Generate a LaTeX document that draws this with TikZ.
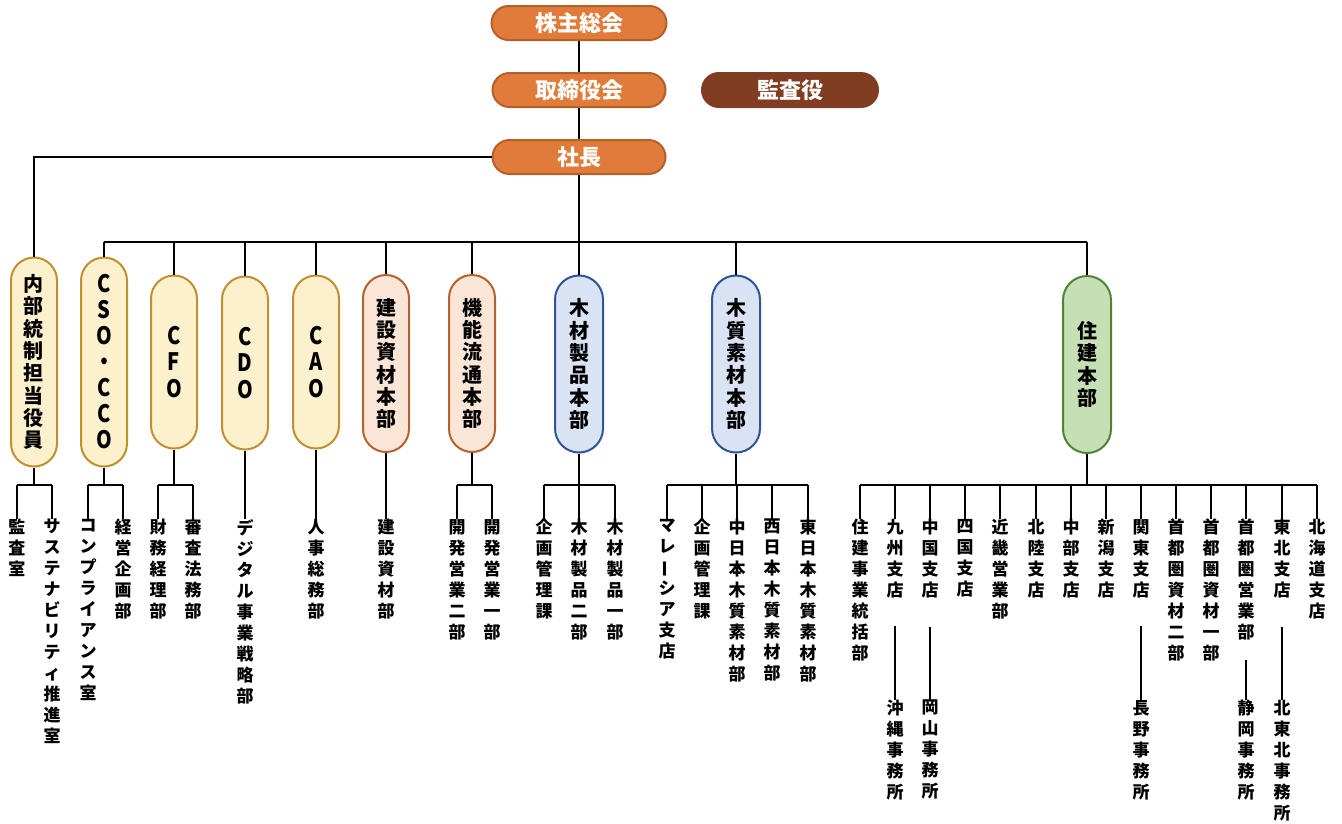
\documentclass[tikz,border=0pt]{standalone}
\usepackage{fontspec}
\usepackage{graphicx}
\usepackage{tikz}
\usetikzlibrary{calc}
\setmainfont{Noto Sans CJK JP}
\definecolor{line}{HTML}{000000}
\definecolor{topfill}{HTML}{E07B39}
\definecolor{topedge}{HTML}{B4602B}
\definecolor{audit}{HTML}{803D21}
\definecolor{yelfill}{HTML}{FDF0CD}
\definecolor{yeledge}{HTML}{BF9030}
\definecolor{orgfill}{HTML}{FBE5D6}
\definecolor{orgedge}{HTML}{B4612D}
\definecolor{blufill}{HTML}{DAE3F3}
\definecolor{bluedge}{HTML}{2F5597}
\definecolor{grnfill}{HTML}{C5E0B4}
\definecolor{grnedge}{HTML}{548235}
\makeatletter
\newcommand\vstack[3][]{\vbox{\baselineskip=#2\lineskiplimit=-30pt\lineskip=0pt
  \expandafter\@tfor\expandafter\vch\expandafter:\expandafter=#3\do{\hbox to 1.1em{\hss#1{\vch}\hss}}}}
\makeatother
\newcommand\tall[1]{\scalebox{1.0}[1.2]{\fontsize{20pt}{20pt}\selectfont#1}}
\newcommand\vbar{\rotatebox[origin=c]{90}{ー}}
\tikzset{
  conn/.style={draw=line, line width=2.2pt},
  topbox/.style={draw=topedge, fill=topfill, line width=2pt, rounded corners=17pt, minimum width=173pt, minimum height=34pt, inner sep=0pt, text=white, font=\bfseries\fontsize{22pt}{22pt}\selectfont},
  auditbox/.style={topbox, draw=audit, fill=audit, minimum width=176pt},
  unit/.style={line width=2pt, rounded corners=23pt, minimum width=46pt, inner sep=0pt, font=\bfseries\fontsize{20pt}{22pt}\selectfont},
  exec/.style={unit, draw=yeledge, fill=yelfill},
  hqo/.style={unit, draw=orgedge, fill=orgfill, minimum height=177pt},
  hqb/.style={unit, draw=bluedge, fill=blufill, minimum width=48pt, minimum height=177pt, rounded corners=24pt},
  hqg/.style={unit, draw=grnedge, fill=grnfill, minimum width=48pt, minimum height=177pt, rounded corners=24pt},
  dept/.style={anchor=north, inner sep=0pt, font=\bfseries\fontsize{17pt}{21pt}\selectfont},
}
\begin{document}
\begin{tikzpicture}[x=1pt, y=-1pt]
  \useasboundingbox (0,0) rectangle (1342,823);
  % top
  \node[topbox, minimum width=175pt] (sokai) at (579,23) {株主総会};
  \node[topbox] (torishimari) at (579,90) {取締役会};
  \node[auditbox] (kansayaku) at (790,90) {監査役};
  \node[topbox] (shacho) at (579,157) {社長};
  \draw[conn] (sokai) -- (torishimari);
  \draw[conn] (torishimari) -- (shacho);

  % officers and headquarters
  \node[exec, minimum height=209pt] (naibu) at (34,362) {\vstack{22.3pt}{内部統制担当役員}};
  \node[exec, minimum height=209pt] (cso) at (104,362) {\vstack[\tall]{26pt}{CSO・CCO}};
  \node[exec, minimum height=173pt] (cfo) at (174,362) {\vstack[\tall]{26.5pt}{CFO}};
  \node[exec, minimum height=173pt] (cdo) at (245,363) {\vstack[\tall]{26.5pt}{CDO}};
  \node[exec, minimum height=173pt] (cao) at (316,362) {\vstack[\tall]{26.5pt}{CAO}};
  \node[hqo] (kenzai) at (386,363.5) {\vstack{22.3pt}{建設資材本部}};
  \node[hqo] (kino) at (472,363.5) {\vstack{22.3pt}{機能流通本部}};
  \node[hqb] (mokuzai) at (579,364) {\vstack{22.3pt}{木材製品本部}};
  \node[hqb] (mokushitsu) at (736,364) {\vstack{22.3pt}{木質素材本部}};
  \node[hqg] (juken) at (1087,364.5) {\vstack{22.3pt}{住建本部}};

  \coordinate (bus) at (0,242);
  \draw[conn] (shacho.south) -- (shacho.south |- bus);
  \draw[conn] (shacho.west) -| (naibu.north);
  \draw[conn] (cso.north |- bus) -- (juken.north |- bus);
  \foreach \n in {cso,cfo,cdo,cao,kenzai,kino,mokuzai,mokushitsu,juken}
    \draw[conn] (\n.north |- bus) -- (\n.north);

  % departments
  \foreach \x/\n/\t in {17/kansa/監査室, 52/sustain/サステナビリティ推進室,
      88/comp/コンプライアンス室, 123/keiei/経営企画部,
      158/zaimu/財務経理部, 193/shinsa/審査法務部,
      245/digital/デジタル事業戦略部, 316/jinji/人事総務部, 386/kenzaibu/建設資材部,
      457/kaihatsu2/開発営業二部, 492/kaihatsu1/開発営業一部,
      544/kikakuA/企画管理課, 579/seihin2/木材製品二部, 615/seihin1/木材製品一部,
      667/malaysia/マレ\vbar シア支店, 702/kikakuB/企画管理課,
      737/naka/中日本木質素材部, 772/nishi/西日本木質素材部, 808/higashi/東日本木質素材部,
      860/jkt/住建事業統括部, 895/kyushu/九州支店, 930/chugoku/中国支店,
      965/shikoku/四国支店, 1000/kinki/近畿営業部, 1036/hokuriku/北陸支店,
      1071/chubu/中部支店, 1106/niigata/新潟支店, 1141/kanto/関東支店,
      1176/shutoshizai2/首都圏資材二部, 1211/shutoshizai1/首都圏資材一部,
      1246/shutoeigyo/首都圏営業部, 1282/tohoku/東北支店, 1317/hokkaido/北海道支店}
    \node[dept] (\n) at (\x,519) {\vstack{21pt}{\t}};

  \coordinate (sub) at (0,485);
  \foreach \p/\a/\b in {naibu/kansa/sustain, cso/comp/keiei, cfo/zaimu/shinsa,
      kino/kaihatsu2/kaihatsu1, mokuzai/kikakuA/seihin1,
      mokushitsu/malaysia/higashi, juken/jkt/hokkaido}{
    \draw[conn] (\p.south) -- (\p.south |- sub);
    \draw[conn] (\a.north |- sub) -- (\b.north |- sub);
  }
  \foreach \c in {kansa,sustain,comp,keiei,zaimu,shinsa,kaihatsu2,kaihatsu1,
      kikakuA,seihin2,seihin1,malaysia,kikakuB,naka,nishi,higashi,
      jkt,kyushu,chugoku,shikoku,kinki,hokuriku,chubu,niigata,kanto,
      shutoshizai2,shutoshizai1,shutoeigyo,tohoku,hokkaido}
    \draw[conn] (\c.north |- sub) -- (\c.north);
  \draw[conn] (cdo.south) -- (digital.north);
  \draw[conn] (cao.south) -- (jinji.north);
  \draw[conn] (kenzai.south) -- (kenzaibu.north);

  % offices
  \foreach \x/\n/\t in {895/okinawa/沖縄事務所, 930/okayama/岡山事務所,
      1141/nagano/長野事務所, 1246/shizuoka/静岡事務所, 1282/kitatohoku/北東北事務所}
    \node[dept] (\n) at (\x,700) {\vstack{21pt}{\t}};
  \foreach \a/\b/\g in {kyushu/okinawa/28, chugoku/okayama/28, kanto/nagano/28,
      shutoeigyo/shizuoka/19, tohoku/kitatohoku/28}
    \draw[conn] ([yshift=-\g pt]\a.south) -- (\b.north);
\end{tikzpicture}
\end{document}
